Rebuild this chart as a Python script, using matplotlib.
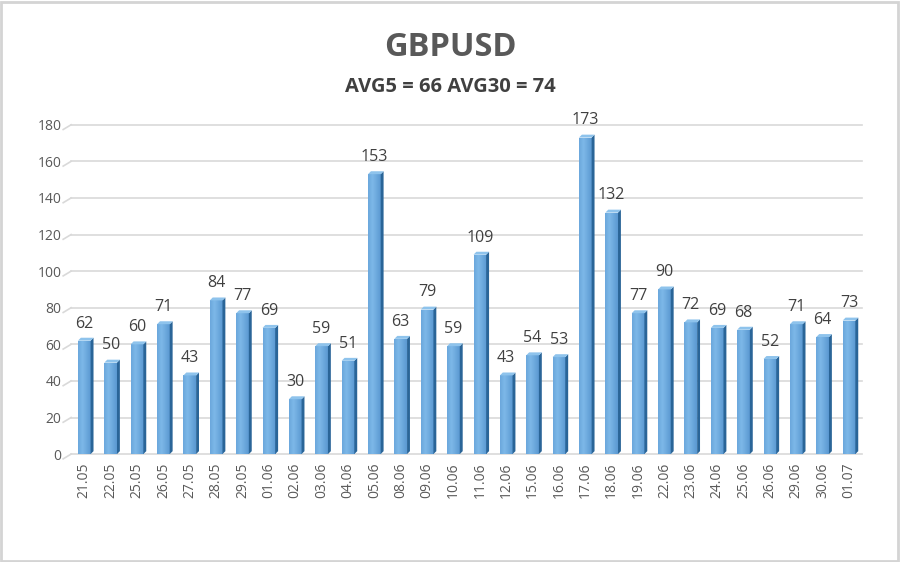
import numpy as np
import matplotlib
matplotlib.use('Agg')
import matplotlib.pyplot as plt
from matplotlib.patches import Polygon, Rectangle

# values
dates = ['21.05', '22.05', '25.05', '26.05', '27.05', '28.05', '29.05', '01.06', '02.06', '03.06',
         '04.06', '05.06', '08.06', '09.06', '10.06', '11.06', '12.06', '15.06', '16.06', '17.06',
         '18.06', '19.06', '22.06', '23.06', '24.06', '25.06', '26.06', '29.06', '30.06', '01.07']
values = [62, 50, 60, 71, 43, 84, 77, 69, 30, 59,
          51, 153, 63, 79, 59, 109, 43, 54, 53, 173,
          132, 77, 90, 72, 69, 68, 52, 71, 64, 73]
title = 'GBPUSD'
subtitle = 'AVG5 = 66 AVG30 = 74'
yticks = [0, 20, 40, 60, 80, 100, 120, 140, 160, 180]

plt.rcParams['font.family'] = ['Open Sans', 'DejaVu Sans']

fig = plt.figure(figsize=(9, 5.62), dpi=100)
ax = fig.add_axes([0.079, 0.192, 0.879, 0.586])

x = np.arange(len(values))
w = 0.48
dx, dy = 0.11, 1.6   # 3d depth of the bars

ax.set_xlim(-0.5, len(values) - 0.5)
ax.set_ylim(0, 180)

# gridlines with small slanted stub at the left (3d floor look)
for t in yticks:
    ax.plot([-0.5, len(values) - 0.5], [t, t], color='#d9d9d9', lw=1.2, zorder=0, clip_on=False)
    ax.plot([-0.5 - 0.3, -0.5], [t - 2.6, t], color='#d9d9d9', lw=1.2, zorder=0, clip_on=False)

# horizontal gradient for the bar fronts
grad = np.linspace(0, 1, 64)
shade = 1 - 0.55 * np.abs(grad - 0.35) / 0.65
cmap = matplotlib.colors.LinearSegmentedColormap.from_list('b', ['#3f7fbf', '#7db8e8'])

bars = ax.bar(x, values, width=w, color='none', edgecolor='none', zorder=2)
for b, v in zip(bars, values):
    x0 = b.get_x()
    img = ax.imshow(shade[None, :], cmap=cmap, vmin=0, vmax=1, aspect='auto',
                    extent=[x0, x0 + w, 0, v], zorder=2, interpolation='bilinear')
    img.set_clip_path(Rectangle((x0, 0), w, v, transform=ax.transData))
    # right side
    ax.add_patch(Polygon([[x0 + w, 0], [x0 + w + dx, dy], [x0 + w + dx, v + dy], [x0 + w, v]],
                         closed=True, facecolor='#2a6598', edgecolor='none', zorder=3))
    # top face
    ax.add_patch(Polygon([[x0, v], [x0 + dx, v + dy], [x0 + w + dx, v + dy], [x0 + w, v]],
                         closed=True, facecolor='#8ec3ec', edgecolor='none', zorder=3))
    ax.text(x0 + w / 2, v + 5, str(v), ha='center', va='bottom', fontsize=11.5,
            color='#404040', zorder=4, clip_on=False)

ax.set_xticks(x)
ax.set_xticklabels(dates, rotation=90, fontsize=10, color='#595959')
ax.set_yticks(yticks)
ax.set_yticklabels([str(t) for t in yticks], fontsize=10, color='#595959')
ax.tick_params(axis='both', length=0)
ax.tick_params(axis='x', pad=6)
ax.tick_params(axis='y', pad=7)
for s in ax.spines.values():
    s.set_visible(False)

fig.text(0.5, 0.916, title, ha='center', va='center', fontsize=23.5, fontweight='bold', color='#595959')
fig.text(0.5, 0.845, subtitle, ha='center', va='center', fontsize=14.5, fontweight='bold', color='#404040')

# light frame around the picture
fig.add_artist(Rectangle((0.001, 0.002), 0.997, 0.995, transform=fig.transFigure,
                         fill=False, edgecolor='#d4d4d4', lw=2))

fig.savefig('out.png', dpi=100)
